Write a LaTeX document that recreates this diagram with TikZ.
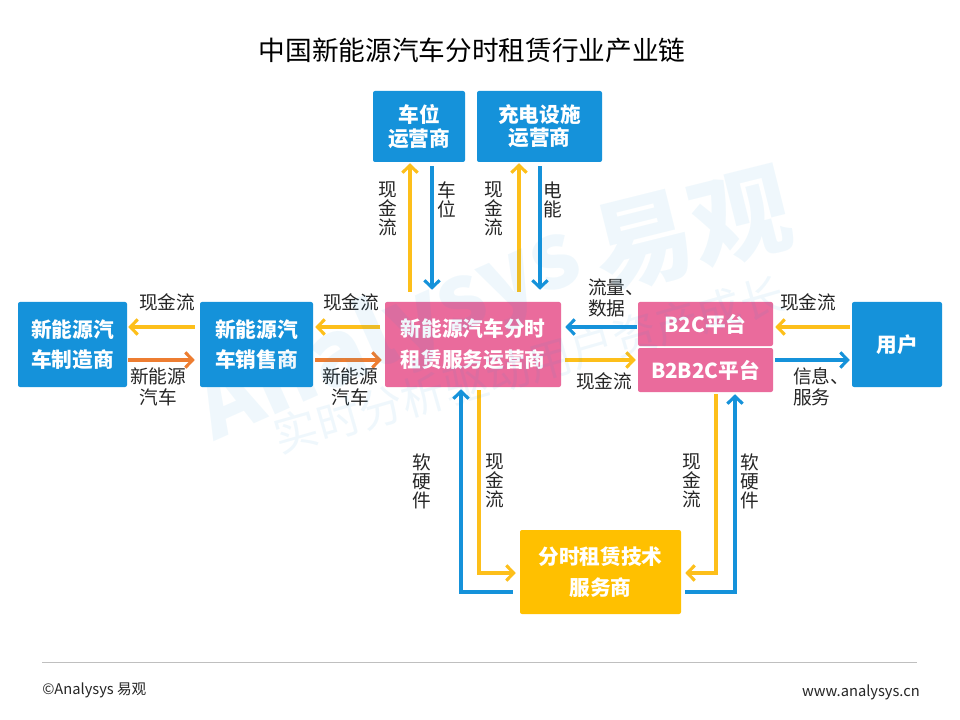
\documentclass[tikz,border=0pt]{standalone}
\usepackage{fontspec}
\setmainfont{Noto Sans CJK SC}
\usetikzlibrary{arrows.meta,calc}
\definecolor{cblue}{HTML}{1592DA}
\definecolor{cpink}{HTML}{EA6B9C}
\definecolor{cyel}{HTML}{FFC000}
\definecolor{cyarr}{HTML}{FDBF1A}
\definecolor{corg}{HTML}{ED7D31}
\definecolor{cgray}{HTML}{BFBFBF}
\definecolor{ctext}{HTML}{262626}
\newcommand\mybfA{\fontsize{15.5}{23}\selectfont\bfseries}
\newcommand\mybfB{\fontsize{15.5}{17.5}\selectfont\bfseries}
\newcommand\mylab{\fontsize{14}{14.3}\selectfont}
\newcommand\mylabB{\fontsize{14}{15.8}\selectfont}
\begin{document}
\begin{tikzpicture}[x=0.75pt,y=-0.75pt,
  box/.style={rounded corners=1.5pt, inner sep=0pt, text=white, align=center, font=\mybfA},
  arr/.style={line width=2.3pt, -{Straight Barb[length=5.5pt,width=11.5pt]}},
  ya/.style={arr, draw=cyarr},
  ba/.style={arr, draw=cblue},
  oa/.style={arr, draw=corg},
  lab/.style={font=\mylab, align=center, inner sep=0pt, text=ctext},
  labB/.style={font=\mylabB, align=center, inner sep=0pt, text=ctext}]
\fill[white] (0,0) rectangle (960,720);
\useasboundingbox (0,0) rectangle (960,720);

% title
\node[font=\fontsize{20}{22}\selectfont, text=black, inner sep=0pt] (title) at (472,50) {中国新能源汽车分时租赁行业产业链};

% boxes
\node[box, fill=cblue, minimum width={92*0.75pt}, minimum height={71*0.75pt}, font=\mybfB] (cw) at (419,126.5) {车位\\运营商};
\node[box, fill=cblue, minimum width={125*0.75pt}, minimum height={71*0.75pt}, font=\mybfB] (cd) at (539.5,126.5) {充电设施\\运营商};
\node[box, fill=cblue, minimum width={109*0.75pt}, minimum height={85*0.75pt}] (mfr) at (72.5,344.5) {新能源汽\\车制造商};
\node[box, fill=cblue, minimum width={113*0.75pt}, minimum height={85*0.75pt}] (dealer) at (256.5,344.5) {新能源汽\\车销售商};
\node[box, fill=cpink, minimum width={176*0.75pt}, minimum height={85*0.75pt}] (op) at (473,344.5) {新能源汽车分时\\租赁服务运营商};
\node[box, fill=cpink, minimum width={135*0.75pt}, minimum height={44*0.75pt}] (b2c) at (705.5,324) {B2C平台};
\node[box, fill=cpink, minimum width={135*0.75pt}, minimum height={44*0.75pt}] (b2b2c) at (705.5,370) {B2B2C平台};
\node[box, fill=cblue, minimum width={90*0.75pt}, minimum height={85*0.75pt}] (user) at (897,344.5) {用户};
\node[box, fill=cyel, minimum width={161*0.75pt}, minimum height={84*0.75pt}] (tech) at (600.5,572) {分时租赁技术\\服务商};

% horizontal arrows, left
\draw[ya] ($(dealer.west)+(-5,-17.5)$) -- ($(mfr.east)+(1,-17.5)$);
\draw[oa] ($(mfr.east)+(1,15.5)$) -- ($(dealer.west)+(-5,15.5)$);
\draw[ya] ($(op.west)+(-5,-17.5)$) -- ($(dealer.east)+(2,-17.5)$);
\draw[oa] ($(dealer.east)+(2,15.5)$) -- ($(op.west)+(-3,15.5)$);
% right
\draw[ba] ($(b2c.west)+(-1,3)$) -- ($(op.east)+(4,-17.5)$);
\draw[ya] ($(op.east)+(4,15.5)$) -- ($(b2b2c.west)+(-2,-10)$);
\draw[ya] ($(user.west)+(-2,-17.5)$) -- ($(b2c.east)+(2,3)$);
\draw[ba] ($(b2b2c.east)+(2,-10)$) -- ($(user.west)+(-2,15.5)$);
% top
\draw[ya] ($(op.north)+(-63,-10)$) -- ($(cw.south)+(-9,1)$);
\draw[ba] ($(cw.south)+(13,4)$) -- ($(op.north)+(-41,-12)$);
\draw[ya] ($(op.north)+(46,-10)$) -- ($(cd.south)+(-20.5,1)$);
\draw[ba] ($(cd.south)+(0.5,4)$) -- ($(op.north)+(67,-12)$);
% bottom
\draw[ya] ($(op.south)+(6,3)$) |- ($(tech.west)+(-4,1)$);
\draw[ba] ($(tech.west)+(-7,20)$) -| ($(op.south)+(-12,2)$);
\draw[ya] ($(b2b2c.south)+(10.5,2)$) |- ($(tech.east)+(4,1)$);
\draw[ba] ($(tech.east)+(4,20)$) -| ($(b2b2c.south)+(29.5,2)$);

% labels
\node[lab] (l1) at (167,302) {现金流};
\node[labB] (l2) at (158,387) {新能源\\汽车};
\node[lab] (l3) at (351,302) {现金流};
\node[labB] (l4) at (350,387) {新能源\\汽车};
\node[labB, align=left, anchor=west] (l5) at (588,298) {流量、\\数据};
\node[lab] (l6) at (604,381) {现金流};
\node[lab] (l7) at (808,302) {现金流};
\node[labB, align=left, anchor=west] (l8) at (793,387) {信息、\\服务};
\node[lab] (v1) at (388,209) {现\\金\\流};
\node[lab] (v2) at (447,200) {车\\位};
\node[lab] (v3) at (494,209) {现\\金\\流};
\node[lab] (v4) at (553,200) {电\\能};
\node[lab] (v5) at (422,481) {软\\硬\\件};
\node[lab] (v6) at (495,481) {现\\金\\流};
\node[lab] (v7) at (692,481) {现\\金\\流};
\node[lab] (v8) at (750,481) {软\\硬\\件};

% footer
\draw[cgray, line width=0.75pt] (42,662) -- (917,662);
\node[font=\fontsize{11}{13}\selectfont, text=ctext, anchor=west, inner sep=0pt] (copy) at (42,690) {©Analysys 易观};
\node[font=\fontsize{11}{13}\selectfont, text=ctext, anchor=east, inner sep=0pt] (web) at (920,692) {www.analysys.cn};

% watermark
\begin{scope}[opacity=0.065, text=cblue]
\node[font=\fontsize{68}{70}\selectfont\bfseries, rotate=24] (wm1) at (390,335) {Analysys};
\node[font=\fontsize{75}{78}\selectfont\bfseries, rotate=14] (wm2) at (692,230) {易观};
\node[font=\fontsize{33}{35}\selectfont, rotate=16] (wm3) at (529,365) {实时分析驱动用户资产成长};
\end{scope}
\end{tikzpicture}
\end{document}
